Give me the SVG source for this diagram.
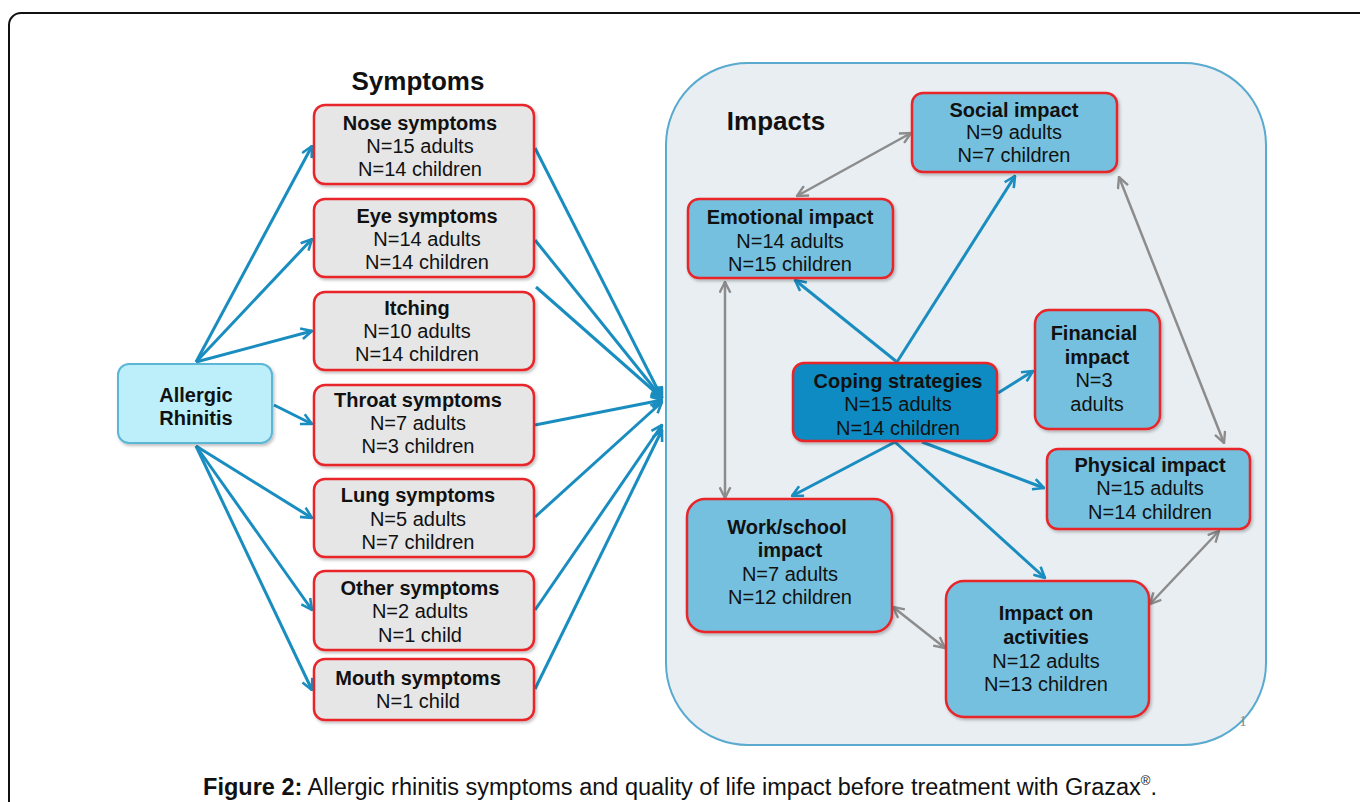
<svg xmlns="http://www.w3.org/2000/svg" width="1360" height="802" viewBox="0 0 1360 802">
<defs>
<style>
text{font-family:"Liberation Sans",Arial,sans-serif;fill:#111;text-anchor:middle}
.b{font-weight:bold}
.t{font-size:20px}
.sym{fill:#e6e6e6;stroke:#e8262b;stroke-width:2.5}
.imp{fill:#74c0de;stroke:#e8262b;stroke-width:2.5}
.blu{stroke:#1a8dc0;stroke-width:3;fill:none}
.gry{stroke:#8c8c8c;stroke-width:2.5;fill:none}
</style>
<marker id="ab" viewBox="0 0 12 12" refX="11" refY="6" markerWidth="13" markerHeight="13" markerUnits="userSpaceOnUse" orient="auto-start-reverse"><path d="M1,1 L11,6 L1,11" fill="none" stroke="#1a8dc0" stroke-width="2.4"/></marker>
<marker id="ag" viewBox="0 0 12 12" refX="11" refY="6" markerWidth="13" markerHeight="13" markerUnits="userSpaceOnUse" orient="auto-start-reverse"><path d="M1,1 L11,6 L1,11" fill="none" stroke="#8c8c8c" stroke-width="2.2"/></marker>
<filter id="sh" x="-10%" y="-10%" width="130%" height="130%"><feDropShadow dx="1.5" dy="2" stdDeviation="1.5" flood-color="#000" flood-opacity="0.25"/></filter>
</defs>
<rect x="0" y="0" width="1360" height="802" fill="#fff"/>
<rect x="9" y="13" width="1400" height="850" rx="12" fill="none" stroke="#111" stroke-width="2"/>

<g id="impacts-panel">
<rect x="666" y="63" width="600" height="682" rx="82" fill="#e8eef2" stroke="#5aaad0" stroke-width="2"/>
<text x="776" y="130" class="b" style="font-size:26px">Impacts</text>
<text x="1243" y="726" style="font-size:15px;fill:#888;font-family:'Liberation Serif',serif">1</text>
</g>

<text x="418" y="90" class="b" style="font-size:26px">Symptoms</text>

<g id="connectors">
<line x1="196" y1="362" x2="312" y2="146" class="blu" marker-end="url(#ab)"/>
<line x1="196" y1="362" x2="312" y2="239" class="blu" marker-end="url(#ab)"/>
<line x1="196" y1="362" x2="312" y2="331" class="blu" marker-end="url(#ab)"/>
<line x1="274" y1="405" x2="312" y2="424" class="blu" marker-end="url(#ab)"/>
<line x1="196" y1="446" x2="312" y2="518" class="blu" marker-end="url(#ab)"/>
<line x1="196" y1="446" x2="312" y2="610" class="blu" marker-end="url(#ab)"/>
<line x1="196" y1="446" x2="312" y2="690" class="blu" marker-end="url(#ab)"/>

<line x1="535" y1="148" x2="662" y2="398" class="blu" marker-end="url(#ab)"/>
<line x1="535" y1="240" x2="662" y2="398" class="blu" marker-end="url(#ab)"/>
<line x1="536" y1="287" x2="662" y2="398" class="blu" marker-end="url(#ab)"/>
<line x1="535" y1="425" x2="662" y2="400" class="blu" marker-end="url(#ab)"/>
<line x1="535" y1="517" x2="662" y2="402" class="blu" marker-end="url(#ab)"/>
<line x1="535" y1="610" x2="662" y2="425" class="blu" marker-end="url(#ab)"/>
<line x1="535" y1="689" x2="662" y2="430" class="blu" marker-end="url(#ab)"/>

<line x1="897" y1="362" x2="795" y2="280" class="blu" marker-end="url(#ab)"/>
<line x1="897" y1="362" x2="1015" y2="176" class="blu" marker-end="url(#ab)"/>
<line x1="998" y1="393" x2="1033" y2="371" class="blu" marker-end="url(#ab)"/>
<line x1="895" y1="442" x2="792" y2="496" class="blu" marker-end="url(#ab)"/>
<line x1="895" y1="442" x2="1045" y2="578" class="blu" marker-end="url(#ab)"/>
<line x1="922" y1="442" x2="1044" y2="488" class="blu" marker-end="url(#ab)"/>

<line x1="797" y1="196" x2="911" y2="133" class="gry" marker-start="url(#ag)" marker-end="url(#ag)"/>
<line x1="725" y1="282" x2="725" y2="498" class="gry" marker-start="url(#ag)" marker-end="url(#ag)"/>
<line x1="1119" y1="177" x2="1224" y2="443" class="gry" marker-start="url(#ag)" marker-end="url(#ag)"/>
<line x1="1219" y1="531" x2="1150" y2="604" class="gry" marker-start="url(#ag)" marker-end="url(#ag)"/>
<line x1="893" y1="607" x2="945" y2="648" class="gry" marker-start="url(#ag)" marker-end="url(#ag)"/>
</g>

<g id="allergic-rhinitis">
<rect x="118" y="364" width="154" height="79" rx="11" fill="#bdeffb" stroke="#5cb6d6" stroke-width="2" filter="url(#sh)"/>
<text x="196" y="402" class="b t">Allergic</text>
<text x="196" y="425" class="b t">Rhinitis</text>
</g>

<g id="nose">
<rect x="314" y="105" width="220" height="79" rx="11" class="sym" filter="url(#sh)"/>
<text x="420" y="130" class="b t">Nose symptoms</text>
<text x="420" y="153" class="t">N=15 adults</text>
<text x="420" y="176" class="t">N=14 children</text>
</g>
<g id="eye">
<rect x="314" y="199" width="220" height="78" rx="11" class="sym" filter="url(#sh)"/>
<text x="427" y="223" class="b t">Eye symptoms</text>
<text x="427" y="246" class="t">N=14 adults</text>
<text x="427" y="269" class="t">N=14 children</text>
</g>
<g id="itching">
<rect x="314" y="292" width="220" height="78" rx="11" class="sym" filter="url(#sh)"/>
<text x="417" y="315" class="b t">Itching</text>
<text x="417" y="338" class="t">N=10 adults</text>
<text x="417" y="361" class="t">N=14 children</text>
</g>
<g id="throat">
<rect x="314" y="385" width="220" height="80" rx="11" class="sym" filter="url(#sh)"/>
<text x="418" y="407" class="b t">Throat symptoms</text>
<text x="418" y="430" class="t">N=7 adults</text>
<text x="418" y="453" class="t">N=3 children</text>
</g>
<g id="lung">
<rect x="314" y="479" width="220" height="78" rx="11" class="sym" filter="url(#sh)"/>
<text x="418" y="502" class="b t">Lung symptoms</text>
<text x="418" y="526" class="t">N=5 adults</text>
<text x="418" y="549" class="t">N=7 children</text>
</g>
<g id="other">
<rect x="314" y="571" width="220" height="79" rx="11" class="sym" filter="url(#sh)"/>
<text x="420" y="595" class="b t">Other symptoms</text>
<text x="420" y="618" class="t">N=2 adults</text>
<text x="420" y="642" class="t">N=1 child</text>
</g>
<g id="mouth">
<rect x="314" y="659" width="220" height="61" rx="11" class="sym" filter="url(#sh)"/>
<text x="418" y="685" class="b t">Mouth symptoms</text>
<text x="418" y="708" class="t">N=1 child</text>
</g>

<g id="social">
<rect x="912" y="93" width="205" height="79" rx="11" class="imp" filter="url(#sh)"/>
<text x="1014" y="117" class="b t">Social impact</text>
<text x="1014" y="139" class="t">N=9 adults</text>
<text x="1014" y="162" class="t">N=7 children</text>
</g>
<g id="emotional">
<rect x="688" y="199" width="205" height="79" rx="11" class="imp" filter="url(#sh)"/>
<text x="790" y="224" class="b t">Emotional impact</text>
<text x="790" y="248" class="t">N=14 adults</text>
<text x="790" y="271" class="t">N=15 children</text>
</g>
<g id="financial">
<rect x="1035" y="310" width="125" height="119" rx="14" class="imp" filter="url(#sh)"/>
<text x="1094" y="340" class="b t">Financial</text>
<text x="1097" y="364" class="b t">impact</text>
<text x="1094" y="387" class="t">N=3</text>
<text x="1097" y="411" class="t">adults</text>
</g>
<g id="coping">
<rect x="793" y="363" width="204" height="78" rx="11" fill="#0a8bc2" stroke="#e8262b" stroke-width="2.5" filter="url(#sh)"/>
<text x="898" y="388" class="b t">Coping strategies</text>
<text x="898" y="411" class="t">N=15 adults</text>
<text x="898" y="435" class="t">N=14 children</text>
</g>
<g id="physical">
<rect x="1047" y="449" width="203" height="80" rx="11" class="imp" filter="url(#sh)"/>
<text x="1150" y="472" class="b t">Physical impact</text>
<text x="1150" y="495" class="t">N=15 adults</text>
<text x="1150" y="519" class="t">N=14 children</text>
</g>
<g id="workschool">
<rect x="687" y="499" width="205" height="133" rx="18" class="imp" filter="url(#sh)"/>
<text x="787" y="534" class="b t">Work/school</text>
<text x="790" y="557" class="b t">impact</text>
<text x="790" y="581" class="t">N=7 adults</text>
<text x="790" y="604" class="t">N=12 children</text>
</g>
<g id="activities">
<rect x="946" y="581" width="203" height="136" rx="18" class="imp" filter="url(#sh)"/>
<text x="1046" y="620" class="b t">Impact on</text>
<text x="1046" y="644" class="b t">activities</text>
<text x="1046" y="668" class="t">N=12 adults</text>
<text x="1046" y="691" class="t">N=13 children</text>
</g>

<text x="680" y="795" style="font-size:23.5px"><tspan class="b">Figure 2:</tspan> Allergic rhinitis symptoms and quality of life impact before treatment with Grazax<tspan style="font-size:13px" dy="-10">®</tspan><tspan dy="10">.</tspan></text>
</svg>
